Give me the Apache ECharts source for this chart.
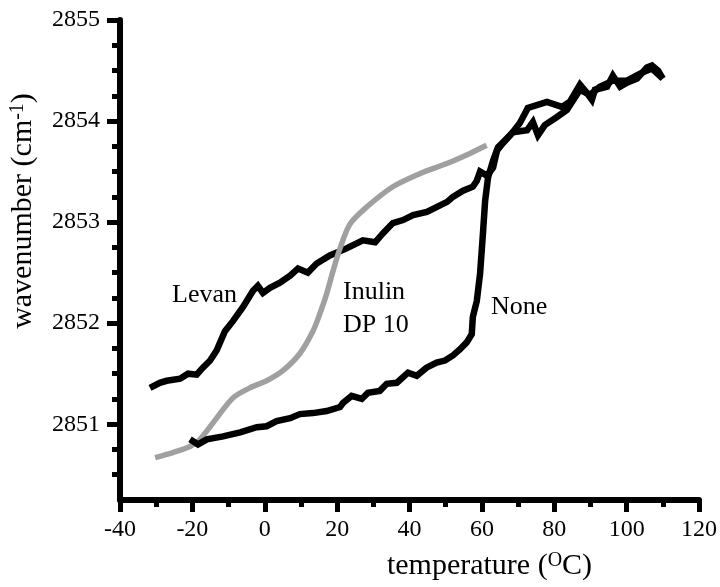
<!DOCTYPE html>
<html>
<head>
<meta charset="utf-8">
<script src="https://cdn.jsdelivr.net/npm/echarts@6/dist/echarts.min.js"></script>
<style>html,body{margin:0;padding:0;background:#fff;}#chart{width:720px;height:587px;}</style>
</head>
<body>
<div id="chart"></div>
<script>
// ---- data ----
var levanT = [-31.7,-29.0,-27.1,-23.4,-21.2,-18.8,-17.1,-15.1,-13.3,-11.0,-8.8,-6.0,-3.25,-1.9,-0.5,1.45,4.2,7.0,9.2,11.9,14.35,18.0,22.6,27.1,30.5,32.7,35.4,38.2,41.0,44.8,47.6,50.4,52.0,54.8,57.5,58.6,59.5,61.4,63.1,64.2,65.8,68.6,72.5,74.1,75.5,77.4,80.75,83.5,87.1,89.9,92.6,96.2,100.1,103.7,107,110];
var levanV = [2851.36,2851.41,2851.43,2851.45,2851.50,2851.49,2851.56,2851.63,2851.73,2851.92,2852.02,2852.16,2852.32,2852.37,2852.30,2852.35,2852.40,2852.47,2852.54,2852.50,2852.59,2852.67,2852.74,2852.82,2852.80,2852.89,2852.99,2853.02,2853.07,2853.10,2853.15,2853.20,2853.25,2853.31,2853.35,2853.41,2853.50,2853.46,2853.54,2853.71,2853.78,2853.89,2853.91,2853.99,2853.86,2853.96,2854.04,2854.11,2854.31,2854.26,2854.34,2854.40,2854.40,2854.47,2854.52,2854.42];

var noneT = [-20.65,-18.45,-16.0,-11.5,-6.8,-2.2,0.5,3.3,7.0,9.7,13.3,17.1,20.8,21.6,24.0,26.8,28.5,31.8,33.7,36.5,39.6,42.0,44.7,47.5,49.8,52.0,53.9,55.8,57.2,57.5,58.6,59.5,60.3,60.9,61.7,63.1,64.45,66.4,68.3,70.5,72.7,78.0,82.1,84.3,87.1,89.0,90.4,91.25,94.6,96.2,98.2,100.1,102.9,105.6,107,108.7,110];
var noneV = [2850.85,2850.80,2850.85,2850.88,2850.92,2850.97,2850.98,2851.03,2851.06,2851.10,2851.11,2851.13,2851.17,2851.21,2851.28,2851.25,2851.31,2851.33,2851.40,2851.41,2851.51,2851.48,2851.56,2851.61,2851.63,2851.68,2851.74,2851.81,2851.89,2852.06,2852.22,2852.49,2852.89,2853.21,2853.44,2853.61,2853.74,2853.81,2853.88,2853.98,2854.13,2854.19,2854.14,2854.19,2854.36,2854.28,2854.21,2854.31,2854.34,2854.45,2854.34,2854.38,2854.42,2854.53,2854.55,2854.50,2854.42];

var inulinT = [-30.3,-25.4,-20.65,-17.9,-13.3,-8.8,-4.1,0.5,5.0,9.7,13.3,15.3,17.1,18.9,20.8,23.55,28.2,35.4,42.9,50.3,56.7,61.3];
var inulinV = [2850.67,2850.72,2850.78,2850.85,2851.06,2851.26,2851.36,2851.43,2851.53,2851.70,2851.92,2852.10,2852.29,2852.52,2852.74,2852.98,2853.15,2853.35,2853.48,2853.58,2853.68,2853.76];

var yMajorTicks = [2851, 2852, 2853, 2854, 2855];
var yMinorTicks = [2850.5, 2850.75, 2851.25, 2851.5, 2851.75, 2852.25, 2852.5, 2852.75, 2853.25, 2853.5, 2853.75, 2854.25, 2854.5, 2854.75];

function pairs(xs, ys) { return xs.map(function (x, i) { return [x, ys[i]]; }); }

var FONT = "'Liberation Serif', 'Times New Roman', serif";
var chart = echarts.init(document.getElementById('chart'));
function yAxisBase(extra) {
  return Object.assign({
    type: 'value', min: 2850.25, max: 2855, interval: 0.25, position: 'left',
    splitLine: { show: false }
  }, extra);
}
chart.setOption({
  animation: false,
  backgroundColor: '#fff',
  grid: { left: 120, right: 21, top: 20, bottom: 87, containLabel: false },
  xAxis: {
    type: 'value', min: -40, max: 120, interval: 20,
    name: 'temperature ({s|O}C)',
    nameLocation: 'middle', nameGap: 51,
    nameTextStyle: {
      fontFamily: FONT, fontSize: 30, color: '#000', padding: [0, 0, 0, 160],
      rich: { s: { fontFamily: FONT, fontSize: 20, color: '#000', verticalAlign: 'top', padding: [0, 0, 10, 0] } }
    },
    axisLine: { show: true, onZero: false, lineStyle: { color: '#000', width: 6 } },
    axisTick: { show: true, length: 12, lineStyle: { color: '#000', width: 5 } },
    minorTick: { show: true, splitNumber: 2, length: 7, lineStyle: { color: '#000', width: 5 } },
    axisLabel: { fontFamily: FONT, fontSize: 24, color: '#000', margin: 18 },
    splitLine: { show: false }, minorSplitLine: { show: false }
  },
  yAxis: [
    yAxisBase({
      name: 'wavenumber (cm{s|-1})',
      nameLocation: 'middle', nameGap: 82,
      nameTextStyle: {
        fontFamily: FONT, fontSize: 30, color: '#000', padding: [0, 0, 0, 98],
        rich: { s: { fontFamily: FONT, fontSize: 20, color: '#000', verticalAlign: 'top', padding: [0, 0, 10, 0] } }
      },
      axisLine: { show: true, onZero: false, lineStyle: { color: '#000', width: 6 } },
      axisTick: { show: false },
      axisLabel: { show: true, customValues: yMajorTicks, fontFamily: FONT, fontSize: 24, color: '#000', margin: 20,
        formatter: function (v) { return String(Math.round(v)); } }
    }),
    yAxisBase({
      axisLine: { show: false, onZero: false },
      axisTick: { show: true, customValues: yMajorTicks, length: 13, lineStyle: { color: '#000', width: 5 } },
      axisLabel: { show: false }
    }),
    yAxisBase({
      axisLine: { show: false, onZero: false },
      axisTick: { show: true, customValues: yMinorTicks, length: 8, lineStyle: { color: '#000', width: 5 } },
      axisLabel: { show: false }
    })
  ],
  series: [
    { name: 'Levan', type: 'line', data: pairs(levanT, levanV), showSymbol: false,
      lineStyle: { color: '#000', width: 6.5, join: 'miter' }, z: 2 },
    { name: 'Inulin DP 10', type: 'line', data: pairs(inulinT, inulinV), showSymbol: false, smooth: 0.3,
      lineStyle: { color: '#a0a0a0', width: 5.5 }, z: 3 },
    { name: 'None', type: 'line', data: pairs(noneT, noneV), showSymbol: false,
      lineStyle: { color: '#000', width: 6.5, join: 'miter' }, z: 4 }
  ],
  graphic: [
    { type: 'text', left: 172, top: 282, style: { text: 'Levan', font: '26px ' + FONT, fill: '#000' } },
    { type: 'text', left: 343, top: 279, style: { text: 'Inulin', font: '26px ' + FONT, fill: '#000' } },
    { type: 'text', left: 343, top: 312, style: { text: 'DP 10', font: '26px ' + FONT, fill: '#000' } },
    { type: 'text', left: 491, top: 294, style: { text: 'None', font: '26px ' + FONT, fill: '#000' } }
  ]
});
</script>
</body>
</html>
